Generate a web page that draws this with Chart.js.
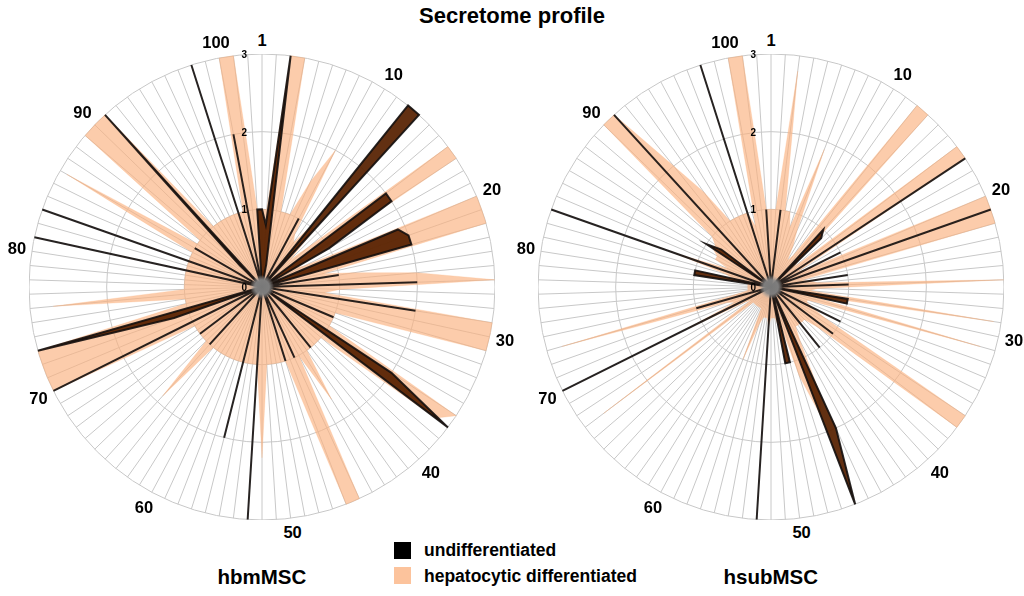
<!DOCTYPE html>
<html><head><meta charset="utf-8">
<script src="https://cdn.jsdelivr.net/npm/chart.js@4.4.1/dist/chart.umd.min.js"></script>
<style>
html,body{margin:0;padding:0;background:#fff;}
body{width:1024px;height:596px;position:relative;overflow:hidden;font-family:"Liberation Sans",Arial,sans-serif;}
.abs{position:absolute;white-space:nowrap;font-weight:bold;color:#000;line-height:1;}
#title{left:0;width:1024px;top:5px;text-align:center;font-size:22px;}
.chartbox{position:absolute;top:54px;width:466px;height:466px;}
.cat{font-size:16.5px;}
.tick{font-size:10px;}
.sq{position:absolute;width:17px;height:17px;}
.leg{font-size:17.5px;}
.name{font-size:20.5px;}
</style></head>
<body>
<div id="title" class="abs">Secretome profile</div>
<div class="chartbox" id="boxL" style="left:29px;"><canvas id="cL" width="466" height="466"></canvas></div>
<div class="chartbox" id="boxR" style="left:538px;"><canvas id="cR" width="466" height="466"></canvas></div>
<div class="sq" style="left:394px;top:542px;background:#000;"></div>
<div class="sq" style="left:394px;top:567px;background:#fcc39c;"></div>
<div class="abs leg" style="left:424px;top:542px;">undifferentiated</div>
<div class="abs leg" style="left:424px;top:568px;">hepatocytic differentiated</div>
<div class="abs name" id="nameL">hbmMSC</div>
<div class="abs name" id="nameR">hsubMSC</div>
<script>
const categories = ['1','2','3','4','5','6','7','8','9','10','11','12','13','14','15','16','17','18','19','20',
'21','22','23','24','25','26','27','28','29','30','31','32','33','34','35','36','37','38','39','40',
'41','42','43','44','45','46','47','48','49','50','51','52','53','54','55','56','57','58','59','60',
'61','62','63','64','65','66','67','68','69','70','71','72','73','74','75','76','77','78','79','80',
'81','82','83','84','85','86','87','88','89','90','91','92','93','94','95','96','97','98','99','100',
'101','102'];
const shownLabels = ['1','10','20','30','40','50','60','70','80','90','100'];
const tickValues = [0,1,2,3];
const seriesNames = ['undifferentiated','hepatocytic differentiated'];
const panelNames = ['hbmMSC','hsubMSC'];

const hbmUndiff = [
1,0.8,3,0.3,0,0,0,0,1,0,
0,3,3,0,0,2,2,1,0,1.9,
2,2,0,1,0,2,0,0,2,0,
0,0,1,0,0,2,3,0,0,0,
1,0,0,0,1,0,1,0,0,0,
0,0,3,0,0,2,0,0,0,0,
0,0,0,1,0,0,1,0,0,3,
0,1.2,3,0,0,0,0,0,0,0,
3,0,3,0,0,1,0,0,0,0.4,
3,0,0,0,0,0,0,3,0,2,
0,1];
const hbmHep = [
1,1,3,3,1,1,1,1.5,2,0.8,
0.7,1,1,0.5,0.8,3,3,0.5,0.6,3,
3,3,0.8,1.2,2,3,1,0.8,3,3,
3,1,1,1,1,3,2.8,1,1,1,
1,1,1.7,1,3,3,1,1,1,1,
1,2.2,1,1,1,1,1,1,1,1,
1,1,1,1.9,1,1,1,1,1,3,
3,3,3,1,1,2.7,1,1,1,1,
1,1,1,1,1,2.9,1,1,3,3,
3,1,1,1,1,1,1,1,1,3,
3,1];
const hsubUndiff = [
0,0,1,0,0,0,0,0,0,0,
0,0,1,0.9,0,0,3,0,1,0,
3,0,0,1,0,1,0,0,1,1,
0,0,0,1,0,0,1,0,0,0,
1,0,0,0,2,3,0,1,1,0,
0,0,3,0,0,0,0,0,0,0,
0,0,0,0,0,0,0,0,0,3,
0,0,1,0,0,0,0,0,0,1,
1,0,3,0,0,0,1,0.8,0,0,
3,0,0,0,0,0,0,3,0,0,
0,1];
const hsubHep = [
1,1,2.8,1,1,0.8,1.9,0.8,0.6,0.4,
0.5,3,3,0.5,0.4,3,3,0.4,0.5,3,
3,3,0.4,0.5,0.6,3,0.6,0.5,2.9,0.5,
2.8,0.5,0.5,0.6,0.8,3,3,0.8,0.6,0.6,
0.6,0.6,0.6,0.8,1.5,1.8,1.2,0.5,0.5,0.4,
0.4,0.4,0.5,0.4,0.4,0.4,0.5,1,0.3,0.3,
0.3,0.3,0.3,0.3,0.3,0.3,2.7,0.3,0.4,1.2,
0.5,0.6,2.8,0.5,0.3,0.3,0.3,0.3,0.3,0.3,
0.5,0.6,1.3,0.6,0.8,0.8,0.9,0.9,1,3,
3,2,1.5,1,1,1,1,1,0.8,3,
3,1];

const hubPlugin = {
  id:'hub',
  afterDatasetsDraw(chart){
    const s = chart.scales.r, c = chart.ctx;
    const g = c.createRadialGradient(s.xCenter, s.yCenter, 0, s.xCenter, s.yCenter, 12);
    g.addColorStop(0,'rgba(120,120,120,1)');
    g.addColorStop(0.6,'rgba(135,135,135,0.9)');
    g.addColorStop(1,'rgba(160,160,160,0)');
    c.save(); c.fillStyle = g; c.beginPath();
    c.arc(s.xCenter, s.yCenter, 12, 0, Math.PI*2); c.fill(); c.restore();
  }
};

function makeRadar(id, undiff, hep){
  return new Chart(document.getElementById(id), {
    type:'radar',
    data:{labels: categories, datasets:[
      {label: seriesNames[0], data: undiff, fill:true, tension:0, pointRadius:0,
       backgroundColor:'rgba(86,32,0,0.93)', borderColor:'rgba(20,16,14,0.9)', borderWidth:2},
      {label: seriesNames[1], data: hep, fill:true, tension:0, pointRadius:0,
       backgroundColor:'rgba(250,178,128,0.66)', borderColor:'rgba(250,178,128,0.5)', borderWidth:0.5}
    ]},
    options:{
      responsive:false, animation:false, events:[],
      layout:{padding:0},
      plugins:{legend:{display:false}, tooltip:{enabled:false}, title:{display:false}},
      scales:{r:{min:0, max:3,
        ticks:{display:false, stepSize:1},
        pointLabels:{display:false},
        grid:{circular:true, color:'#c8c8c8', lineWidth:1},
        angleLines:{color:'#c8c8c8', lineWidth:1}}}
    },
    plugins:[hubPlugin]
  });
}

function addLabels(chart, box){
  const s = chart.scales.r;
  const R = s.drawingArea;
  const oL = box.offsetLeft, oT = box.offsetTop;
  categories.forEach((c, i) => {
    if (!shownLabels.includes(c)) return;
    const sp = document.createElement('div');
    sp.className = 'abs cat'; sp.textContent = c;
    document.body.appendChild(sp);
    const w = sp.offsetWidth, h = sp.offsetHeight;
    const a = s.getIndexAngle(i);
    const d = R + 5 + 0.5*(w*Math.abs(Math.sin(a)) + h*Math.abs(Math.cos(a)));
    const p = s.getPointPosition(i, d);
    sp.style.left = (oL + p.x - w/2) + 'px';
    sp.style.top = (oT + p.y - h/2) + 'px';
  });
  tickValues.forEach(v => {
    const sp = document.createElement('div');
    sp.className = 'abs tick'; sp.textContent = String(v);
    document.body.appendChild(sp);
    const w = sp.offsetWidth, h = sp.offsetHeight;
    const p = s.getPointPosition(0, s.getDistanceFromCenterForValue(v));
    sp.style.left = (oL + p.x - 17.5 - w/2) + 'px';
    sp.style.top = (oT + p.y + 1 - h/2) + 'px';
  });
}

function placeName(el, chart, box){
  const s = chart.scales.r;
  const w = el.offsetWidth;
  el.style.left = (box.offsetLeft + s.xCenter - w/2) + 'px';
  el.style.top = '567px';
}

const chartL = makeRadar('cL', hbmUndiff, hbmHep);
const chartR = makeRadar('cR', hsubUndiff, hsubHep);
const boxL = document.getElementById('boxL'), boxR = document.getElementById('boxR');
addLabels(chartL, boxL);
addLabels(chartR, boxR);
placeName(document.getElementById('nameL'), chartL, boxL);
placeName(document.getElementById('nameR'), chartR, boxR);
</script>
</body></html>
